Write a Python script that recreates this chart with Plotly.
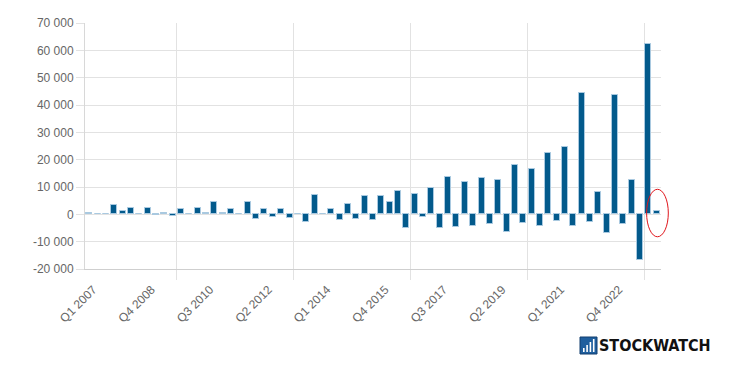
import plotly.graph_objects as go

# quarters Q1 2007 .. Q1 2024
categories = [f"Q{q} {y}" for y in range(2007, 2025) for q in (1, 2, 3, 4)][:69]

values = [
    400, 0, 100, 3300, 1200, 2200, 100, 2200, -300, 500,
    -500, 2000, 0, 2300, 400, 4500, 400, 2000, 100, 4600,
    -1700, 1900, -1100, 2000, -1500, 0, -2700, 7100, 100, 2000,
    -2200, 3600, -1600, 6700, -2100, 6700, 4500, 8500, -5000, 7600,
    -900, 9700, -5000, 13500, -4800, 12000, -4400, 13400, -3700, 12500,
    -6600, 17900, -3300, 16700, -4100, 22500, -2500, 24600, -4100, 44400,
    -2800, 8200, -6800, 43600, -3700, 12600, -16700, 62300, 1100,
]

x_tick_labels = ["Q1 2007", "Q4 2008", "Q3 2010", "Q2 2012", "Q1 2014",
                 "Q4 2015", "Q3 2017", "Q2 2019", "Q1 2021", "Q4 2022"]
y_tick_vals = [-20000, -10000, 0, 10000, 20000, 30000, 40000, 50000, 60000, 70000]
y_tick_labels = ["-20 000", "-10 000", "0", "10 000", "20 000", "30 000",
                 "40 000", "50 000", "60 000", "70 000"]

idx = list(range(len(categories)))
x_tick_vals = [categories.index(l) for l in x_tick_labels]

GRID = "#e2e2e2"
TXT = "#666666"
FONT = "Liberation Sans, Arial, sans-serif"

fig = go.Figure()
fig.add_trace(go.Bar(
    x=idx, y=values, width=0.72,
    marker=dict(color="#035a8c", line=dict(color="#a9c9e0", width=1)),
    hoverinfo="skip",
))

fig.update_layout(
    width=736, height=374,
    margin=dict(l=77, r=83, t=15, b=113, autoexpand=False),
    paper_bgcolor="white", plot_bgcolor="white",
    showlegend=False,
    font=dict(family=FONT, size=12, color=TXT),
    xaxis=dict(
        range=[-0.5, len(categories) - 0.5], automargin=False,
        tickmode="array", tickvals=x_tick_vals, ticktext=x_tick_labels,
        tickangle=-45, showgrid=False, ticks="outside", ticklen=8,
        tickcolor="rgba(0,0,0,0)", zeroline=False, ticklabelshift=4,
        showline=True, linecolor="#cfcfcf", linewidth=1,
        tickfont=dict(family=FONT, size=12, color=TXT),
        minor=dict(tickmode="linear", tick0=10.5, dtick=14, showgrid=True,
                   gridcolor=GRID, gridwidth=1, ticks="outside", ticklen=10,
                   tickcolor=GRID, tickwidth=1),
    ),
    yaxis=dict(
        range=[-20000, 70000], automargin=False,
        tickmode="array", tickvals=y_tick_vals, ticktext=y_tick_labels,
        showgrid=True, gridcolor=GRID, gridwidth=1,
        zeroline=False,
        ticks="outside", ticklen=8, tickcolor=GRID,
        showline=True, linecolor="#d8d8d8", linewidth=1,
        tickfont=dict(family=FONT, size=12, color=TXT),
    ),
    bargap=0,
)

# red hand-drawn style ellipse around the latest quarter
fig.add_shape(type="circle", xref="paper", yref="paper",
              x0=0.975, x1=1.0127, y0=0.131, y1=0.324,
              line=dict(color="#e0151b", width=1), fillcolor="rgba(0,0,0,0)")

# STOCKWATCH logo
fig.add_shape(type="rect", xref="paper", yref="paper",
              x0=(580 - 85) / 576, x1=(597 - 85) / 576,
              y0=(269 - 354) / 246, y1=(269 - 337) / 246,
              fillcolor="#1f5f9e", line=dict(color="#123f6e", width=1), layer="above")
for i, h in enumerate([4, 7, 10, 13]):
    bx = 583 + i * 3.3
    fig.add_shape(type="rect", xref="paper", yref="paper",
                  x0=(bx - 85) / 576, x1=(bx + 1.6 - 85) / 576,
                  y0=(269 - 352) / 246, y1=(269 - 352 + h) / 246,
                  fillcolor="white", line=dict(width=0), layer="above")
fig.add_annotation(xref="paper", yref="paper", x=(597 - 85) / 576, y=(269 - 345.5) / 246,
                   xanchor="left", yanchor="middle", showarrow=False,
                   text="<b>STOCKWATCH</b>",
                   font=dict(family="DejaVu Sans Condensed, DejaVu Sans", size=16, color="#111111"))

fig.write_html("out.html")
